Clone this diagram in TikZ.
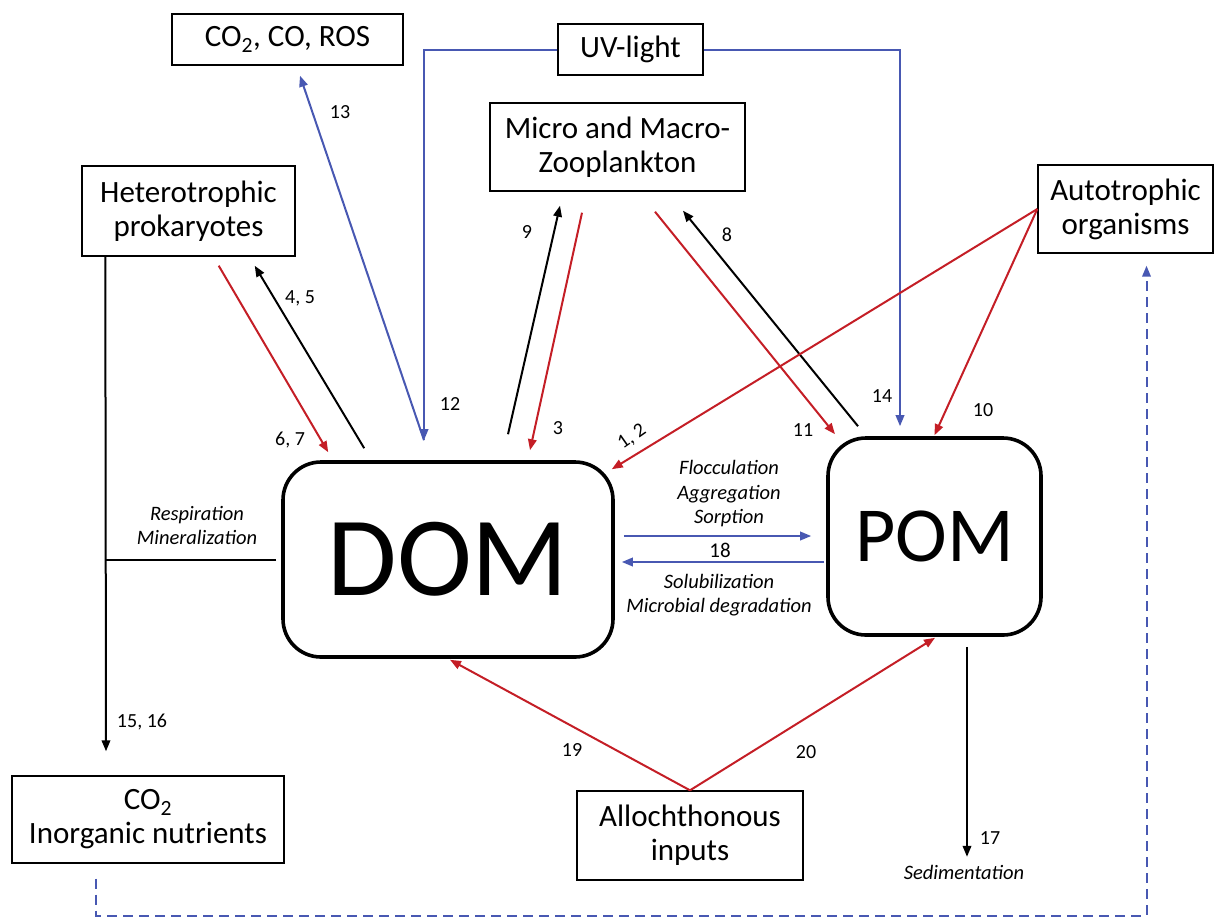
\documentclass[tikz,border=0pt]{standalone}
\usepackage{fontspec}
\setmainfont{Carlito}
\usetikzlibrary{arrows.meta,calc}
\definecolor{fluxred}{RGB}{196,30,38}
\definecolor{fluxblue}{RGB}{72,88,178}
\tikzset{
  box/.style={draw,line width=1.4pt,inner sep=0pt,align=center,font=\fontsize{31}{34}\selectfont},
  pool/.style={draw,line width=3.6pt,rounded corners=38pt,inner sep=0pt},
  tip/.style={-{Triangle[length=11pt,width=8.5pt]}},
  redflux/.style={tip,fluxred,line width=2pt},
  blackflux/.style={tip,black,line width=2pt},
  blueflux/.style={tip,fluxblue,line width=2pt},
  num/.style={font=\fontsize{20}{24}\selectfont,inner sep=1pt},
  proc/.style={font=\fontsize{20.5}{24.5}\selectfont\itshape,inner sep=1pt}
}
\begin{document}
\begin{tikzpicture}[x=1pt,y=-1pt]
\useasboundingbox (0,0) rectangle (1215,922);

% boxes
\node[box,minimum width=231,minimum height=51] (co) at (287.5,39.5) {CO\textsubscript{2}, CO, ROS};
\node[box,minimum width=145,minimum height=51] (uv) at (630.5,49.5) {UV-light};
\node[box,minimum width=255,minimum height=88] (zoo) at (617.5,147) {Micro and Macro-\\Zooplankton};
\node[box,minimum width=213,minimum height=90] (het) at (188.5,211) {Heterotrophic\\prokaryotes};
\node[box,minimum width=175,minimum height=88] (auto) at (1125.5,209) {Autotrophic\\organisms};
\node[box,minimum width=272,minimum height=87] (inorg) at (148,819.5) {CO\textsubscript{2}\\Inorganic nutrients};
\node[box,minimum width=226,minimum height=89] (allo) at (690,835.5) {Allochthonous\\inputs};

% organic matter pools
\node[pool,minimum width=330,minimum height=195] (dom) at (448,559.5) {};
\node[font=\fontsize{113}{113}\selectfont] at (dom.center) {DOM};
\node[pool,minimum width=213,minimum height=197] (pom) at (934.5,536.5) {};
\node[font=\fontsize{78}{78}\selectfont] at (pom.center) {POM};

% connector end points
\coordinate (p67a) at ($(het.south east)+(-77,9)$);
\coordinate (p67b) at ($(dom.north west)+(47,-8)$);
\coordinate (p45a) at ($(dom.north west)+(83,-12)$);
\coordinate (p45b) at ($(het.south east)+(-41,9)$);
\coordinate (p12) at ($(dom.north)+(-24,-20)$);
\coordinate (p13) at ($(co.south)+(12.5,10)$);
\coordinate (p14) at ($(pom.north)+(-34.5,-10)$);
\coordinate (p9a) at ($(dom.north)+(60,-26)$);
\coordinate (p9b) at ($(zoo.south)+(-57.5,14)$);
\coordinate (p3a) at ($(zoo.south)+(-35.5,21)$);
\coordinate (p3b) at ($(dom.north)+(82,-10)$);
\coordinate (p8a) at ($(pom.north)+(-76.5,-10)$);
\coordinate (p8b) at ($(zoo.south)+(65.5,19)$);
\coordinate (p11a) at ($(zoo.south)+(37.5,20)$);
\coordinate (p11b) at ($(pom.north)+(-99.5,-2)$);
\coordinate (p12b) at ($(dom.north east)+(-3,9)$);
\coordinate (p10) at ($(pom.north)+(0,-1)$);
\coordinate (f1) at ($(dom.east)+(9,-23.5)$);
\coordinate (f2) at ($(pom.west)+(-15,-0.5)$);
\coordinate (s1) at ($(pom.west)+(-2,25.5)$);
\coordinate (s2) at ($(dom.east)+(7,2.5)$);
\coordinate (rtop) at ($(het.south west)+(24,0)$);
\coordinate (rbot) at ($(inorg.north)+(-42,-24)$);
\coordinate (rdom) at ($(dom.west)+(-5,0.5)$);
\coordinate (rjoin) at (rtop |- rdom);
\coordinate (p19) at ($(dom.south)+(2,1)$);
\coordinate (p20) at ($(pom.south)+(0.5,1)$);
\coordinate (sedA) at ($(pom.south)+(32.5,10)$);
\coordinate (sedB) at ($(pom.south)+(32.5,220)$);
\coordinate (dA) at ($(inorg.south west)+(85,15)$);
\coordinate (dB) at ($(auto.south)+(21,12)$);

% exchanges with heterotrophic prokaryotes
\draw[redflux] (p67a) -- (p67b);
\draw[blackflux] (p45a) -- (p45b);

% photochemistry
\draw[blueflux] (uv.west) -| (p12);
\draw[blueflux] (p12) -- (p13);
\draw[blueflux] (uv.east) -| (p14);

% zooplankton
\draw[blackflux] (p9a) -- (p9b);
\draw[redflux] (p3a) -- (p3b);
\draw[blackflux] (p8a) -- (p8b);
\draw[redflux] (p11a) -- (p11b);

% autotrophic production
\draw[redflux] (auto.west) -- (p12b);
\draw[redflux] (auto.west) -- (p10);

% DOM <-> POM
\draw[blueflux] (f1) -- (f2);
\draw[blueflux] (s1) -- (s2);

% respiration and mineralization
\draw[blackflux] (rtop) -- (rbot);
\draw[black,line width=2pt] (rdom) -- (rjoin);

% allochthonous inputs
\draw[redflux] (allo.north) -- (p19);
\draw[redflux] (allo.north) -- (p20);

% sedimentation
\draw[blackflux] (sedA) -- (sedB);

% nutrient recycling to autotrophs
\draw[blueflux,dashed,dash pattern=on 10pt off 6pt] (dA) -- ++(0,37) -| (dB);

% flux labels
\node[num] at (340,112) {13};
\node[num] at (450,404) {12};
\node[num] at (300,298) {4, 5};
\node[num] at (290,440) {6, 7};
\node[num] at (527,232) {9};
\node[num] at (558,428) {3};
\node[num] at (727,235) {8};
\node[num] at (803,430) {11};
\node[num] at (882,396) {14};
\node[num] at (983,410) {10};
\node[num,rotate=35] at (632,437) {1, 2};
\node[num] at (142,722) {15, 16};
\node[num] at (572,750) {19};
\node[num] at (806,752) {20};
\node[num] at (990,838) {17};
\node[num,font=\fontsize{21}{24}\selectfont] at (720,550) {18};

% process labels
\node[proc,align=center] at (729,494) {Flocculation\\Aggregation\\Sorption};
\node[proc,align=center] at (719,595) {Solubilization\\Microbial degradation};
\node[proc,align=center] at (197,525.5) {Respiration\\Mineralization};
\node[proc] at (964,872) {Sedimentation};
\end{tikzpicture}
\end{document}
